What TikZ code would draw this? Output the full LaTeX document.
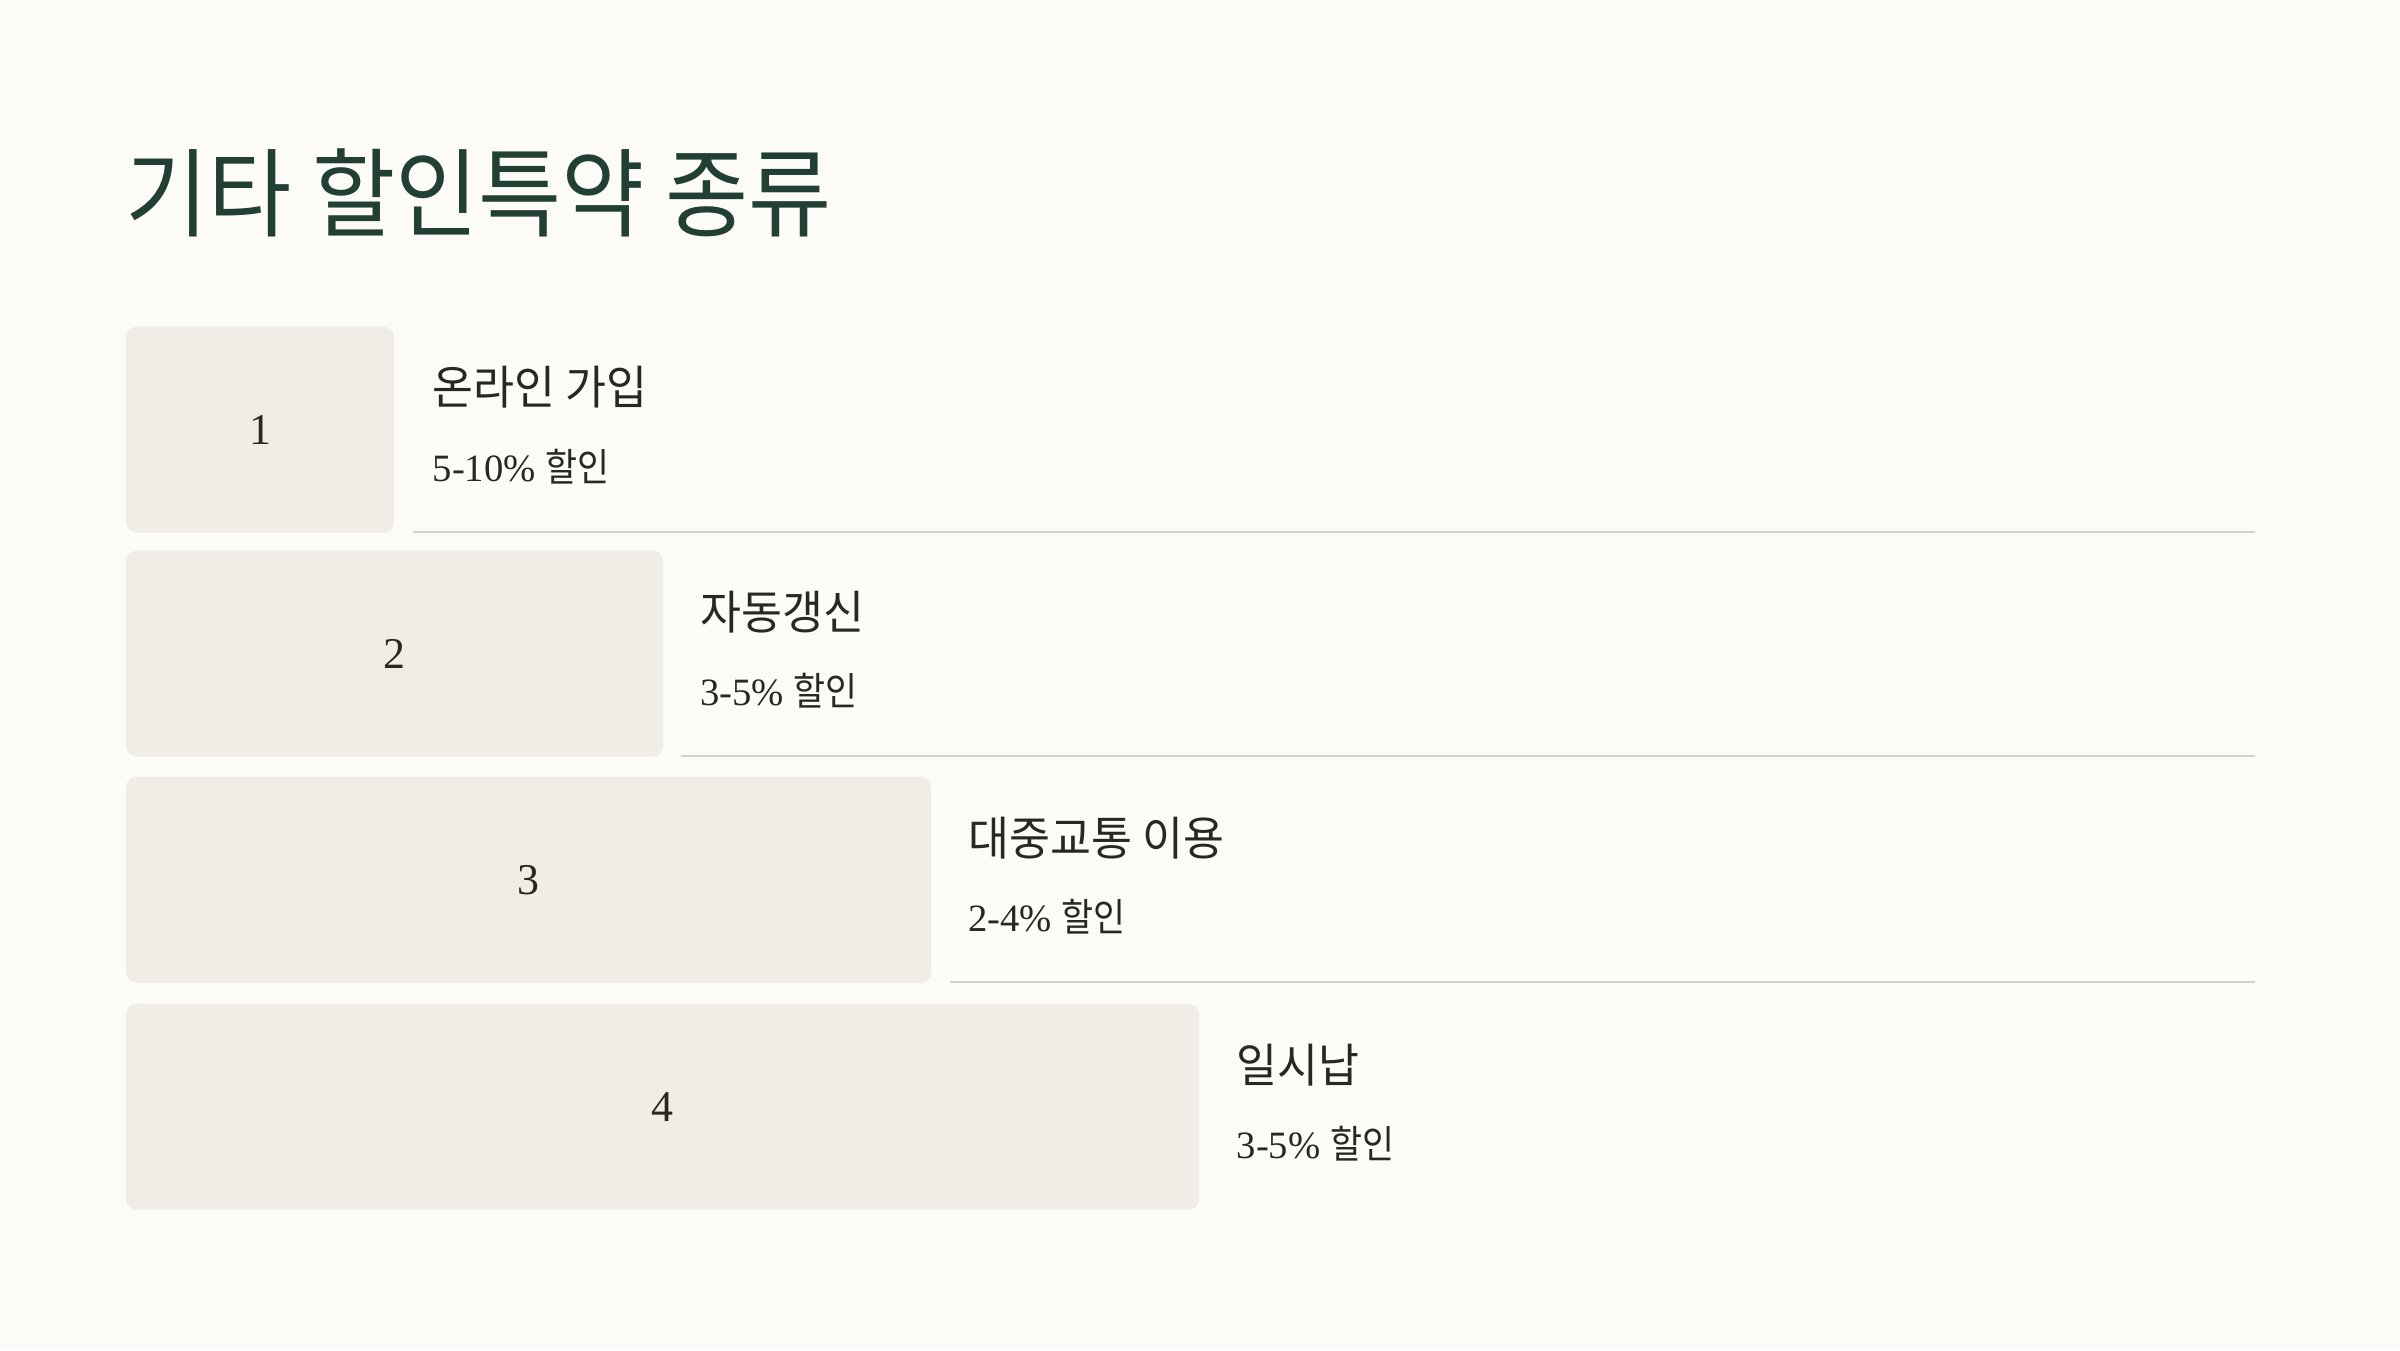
\documentclass[tikz,border=0pt]{standalone}
\usepackage{fontspec}
\setmainfont{Liberation Serif}
\newfontfamily\krtitle[FakeStretch=0.935]{Noto Sans CJK KR}
\newfontfamily\krfont[FakeStretch=0.96]{Noto Sans CJK KR}
\newfontfamily\krsub[FakeStretch=0.9]{Noto Sans CJK KR}
\usetikzlibrary{positioning}

\definecolor{pagebg}{HTML}{FCFBF7}
\definecolor{boxfill}{HTML}{F0EDE6}
\definecolor{titlegreen}{HTML}{213F32}
\definecolor{inkdark}{HTML}{2A2723}
\definecolor{rulegray}{HTML}{D3D1CB}

\begin{document}
\begin{tikzpicture}
\tikzstyle{numbox}=[fill=boxfill,rounded corners=3pt,minimum height=2.06cm,anchor=north west,inner sep=0pt,text=inkdark,font=\fontsize{12.5}{14}\selectfont]
\tikzstyle{head}=[anchor=west,inner sep=0pt,text=inkdark,font=\krfont\fontsize{13.2}{16}\selectfont]
\tikzstyle{sub}=[anchor=west,inner sep=0pt,text=inkdark,font=\fontsize{11}{14}\selectfont]
\tikzstyle{rule}=[draw=rulegray,line width=0.02cm]

\fill[pagebg] (0,0) rectangle (24,-13.5);
\useasboundingbox (0,0) rectangle (24,-13.5);

\node[anchor=west,inner sep=0pt,text=titlegreen,font=\krtitle\fontsize{27.5}{32}\selectfont] (title) at (1.25,-1.925) {기타 할인특약 종류};

% 1
\node[numbox,minimum width=2.68cm] (box1) at (1.255,-3.26) {1};
\node[head] (head1) at (4.32,-3.87) {온라인 가입};
\node[sub] (sub1) at (4.32,-4.67) {5-10\% {\krsub 할인}};
\coordinate (rule1a) at (4.13,-5.32);
\coordinate (rule1b) at (22.55,-5.32);
\draw[rule] (rule1a) -- (rule1b);

% 2
\node[numbox,minimum width=5.37cm] (box2) at (1.255,-5.50) {2};
\node[head] (head2) at (6.995,-6.12) {자동갱신};
\node[sub] (sub2) at (6.995,-6.91) {3-5\% {\krsub 할인}};
\coordinate (rule2a) at (6.81,-7.56);
\coordinate (rule2b) at (22.55,-7.56);
\draw[rule] (rule2a) -- (rule2b);

% 3
\node[numbox,minimum width=8.05cm] (box3) at (1.255,-7.76) {3};
\node[head] (head3) at (9.675,-8.385) {대중교통 이용};
\node[sub] (sub3) at (9.675,-9.165) {2-4\% {\krsub 할인}};
\coordinate (rule3a) at (9.50,-9.82);
\coordinate (rule3b) at (22.55,-9.82);
\draw[rule] (rule3a) -- (rule3b);

% 4
\node[numbox,minimum width=10.73cm] (box4) at (1.255,-10.03) {4};
\node[head] (head4) at (12.36,-10.65) {일시납};
\node[sub] (sub4) at (12.36,-11.44) {3-5\% {\krsub 할인}};
\end{tikzpicture}
\end{document}
